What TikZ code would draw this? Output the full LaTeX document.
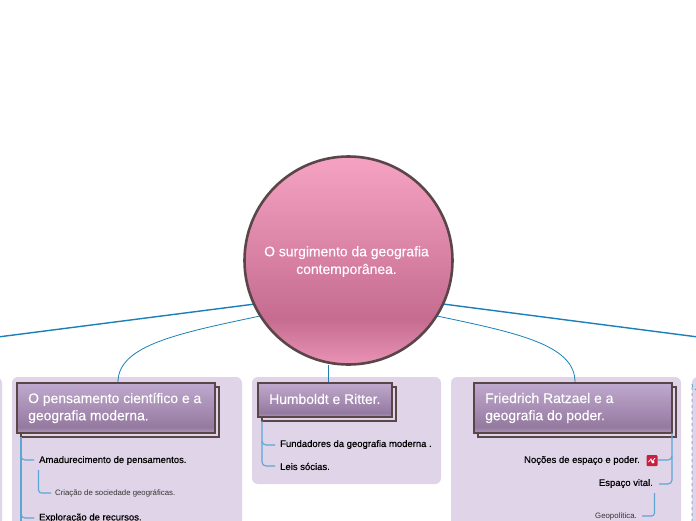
\documentclass[tikz,border=0pt]{standalone}
\usepackage{fontspec}
\setmainfont{Liberation Sans}
\newfontfamily\medfont[FakeBold=0.4]{Liberation Sans}
\newfontfamily\lightfont[FakeBold=0.2]{Liberation Sans}
\usetikzlibrary{shadings}
\definecolor{panel}{HTML}{E0D4E8}
\definecolor{edge}{HTML}{5A4648}
\definecolor{linkb}{HTML}{1B80B8}
\definecolor{linkl}{HTML}{5CA6D6}
\definecolor{ta}{HTML}{AD96BB}
\definecolor{tb}{HTML}{957AA0}
\definecolor{td}{HTML}{C0A9CE}
\definecolor{ha}{HTML}{EA93B5}
\definecolor{hb}{HTML}{C56C90}
\definecolor{hd}{HTML}{F6A3C3}
\definecolor{iconred}{HTML}{C8203C}
\pgfdeclareverticalshading{topicshade}{100bp}{color(0bp)=(ta);color(25bp)=(ta);color(31bp)=(tb);color(75bp)=(td);color(100bp)=(td)}
\pgfdeclareverticalshading{hubshade}{100bp}{color(0bp)=(ha);color(25bp)=(ha);color(36bp)=(hb);color(75bp)=(hd);color(100bp)=(hd)}
\tikzset{x=1pt,y=-1pt,
 panelbox/.style={fill=panel,rounded corners=6pt},
 topic/.style={draw=edge,line width=2pt,shading=topicshade},
 backbox/.style={draw=edge,line width=2pt,fill=panel},
 toptext/.style={text=white,font=\lightfont\fontsize{13.9}{17.2}\selectfont,align=left,anchor=west,inner sep=0pt},
 hubtext/.style={text=white,font=\lightfont\fontsize{13.9}{17.7}\selectfont,align=center,inner sep=0pt},
 subtext/.style={text=black,font=\medfont\fontsize{9.5}{11}\selectfont,inner sep=0pt},
 tinytext/.style={text=black!80,font=\fontsize{7.8}{9}\selectfont,inner sep=0pt},
 main/.style={draw=linkb,line width=1.4pt},
 thinmain/.style={draw=linkb,line width=.8pt},
 sub/.style={draw=linkl,line width=1.1pt}}
\begin{document}
\begin{tikzpicture}
\useasboundingbox (0,0) rectangle (696,520);
\fill[white] (0,0) rectangle (696,520);
\begin{scope}
\clip (0,0) rectangle (696,520);
% panels
\fill[panelbox] (-40,377) rectangle (2,540);
\fill[panelbox] (12,377) rectangle (242,540);
\fill[panelbox] (252,377) rectangle (441,484);
\fill[panelbox] (451,377) rectangle (681,540);
\fill[panelbox] (692,377) rectangle (740,540);
\draw[linkl,line width=.9pt,dashed] (692,540) -- (692,384) arc[start angle=180,end angle=90,radius=6];
% hub connectors
\coordinate (hl1) at (255,304);
\coordinate (hl2) at (260,316);
\coordinate (hr1) at (443,304);
\coordinate (hr2) at (437,316);
\coordinate (hbot) at (328,365);
\coordinate (offl) at (-2,337);
\coordinate (offr) at (698,337);
\coordinate (t2) at (118,382);
\coordinate (t3) at (328,382);
\coordinate (t4) at (575,382);
\draw[main] (hl1) -- (offl);
\draw[main] (hr1) -- (offr);
\draw[thinmain] (hl2) .. controls (180,333) and (118,345) .. (t2);
\draw[thinmain] (hr2) .. controls (518,333) and (575,345) .. (t4);
\draw[thinmain] (hbot) -- (t3);
% boxes
\draw[backbox] (21,387) rectangle (219,437);
\draw[topic] (17,383) rectangle (215,433);
\node[toptext] (n2) at (28,408) {O pensamento científico e a\\geografia moderna.};
\draw[backbox] (262,387) rectangle (396,421);
\draw[topic] (258,383) rectangle (392,417);
\node[toptext] (n3) at (269,399) {Humboldt e Ritter.};
\draw[backbox] (478,387) rectangle (676,437);
\draw[topic] (474,383) rectangle (672,433);
\node[toptext] (n4) at (485,408) {Friedrich Ratzael e a\\geografia do poder.};
% subtopics left
\node[subtext,anchor=west] (a1) at (39,460.5) {Amadurecimento de pensamentos.};
\node[tinytext,anchor=west] (a2) at (55,493) {Criação de sociedade geográficas.};
\node[subtext,anchor=west] (a3) at (39,518) {Exploração de recursos.};
\draw[sub] (21,437) -- (21,530);
\draw[sub] (21,456) arc[start angle=180,end angle=90,radius=4] -- (34,460);
\draw[sub] (21,514) arc[start angle=180,end angle=90,radius=4] -- (34,518);
\draw[sub] (38.5,470) -- (38.5,490) arc[start angle=180,end angle=90,radius=3] -- (51,493);
% middle
\node[subtext,anchor=west] (b1) at (280,444.5) {Fundadores da geografia moderna .};
\node[subtext,anchor=west] (b2) at (280,466.5) {Leis sócias.};
\draw[sub] (262,421) -- (262,462) arc[start angle=180,end angle=90,radius=4] -- (275,466);
\draw[sub] (262,441) arc[start angle=180,end angle=90,radius=4] -- (275,445);
% right
\node[subtext,anchor=east] (c1) at (640,460.5) {Noções de espaço e poder.};
\node[subtext,anchor=east] (c2) at (653,483.5) {Espaço vital.};
\node[tinytext,anchor=east] (c3) at (637,516.5) {Geopolítica.};
\draw[sub] (672,433) -- (672,480) arc[start angle=0,end angle=90,radius=4] -- (659,484);
\draw[sub] (672,456) arc[start angle=0,end angle=90,radius=4] -- (658,460);
\draw[sub] (654.5,493) -- (654.5,513) arc[start angle=0,end angle=90,radius=3] -- (642,516);
% icon
\fill[iconred,rounded corners=1pt] (646.5,455) rectangle (657.5,466);
\draw[white,line width=.8pt] (648.5,462) -- (651,459) -- (652,462) -- (655,458);
\fill[white] (653,462) circle (1.6pt);
% hub circle
\draw[edge,line width=2.6pt,shading=hubshade] (348.5,260.5) circle[radius=104];
\node[hubtext] (hub) at (346.5,261.5) {O surgimento da geografia\\contemporânea.};
\end{scope}
\end{tikzpicture}
\end{document}
